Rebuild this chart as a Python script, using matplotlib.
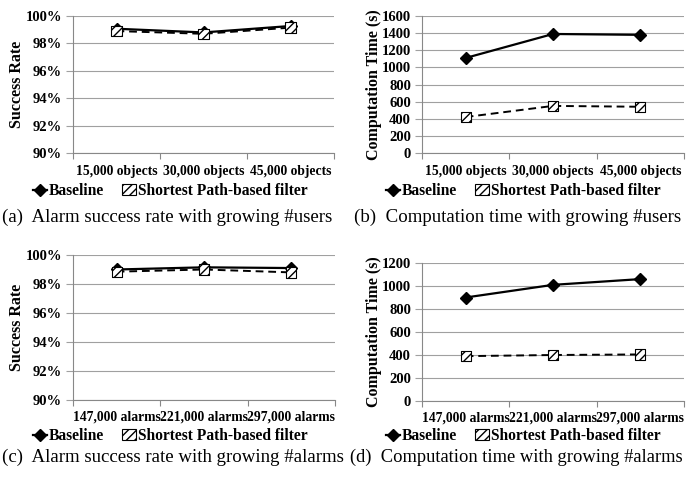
import matplotlib
matplotlib.use("Agg")
import matplotlib.pyplot as plt
from matplotlib.lines import Line2D
from matplotlib.patches import Patch

plt.rcParams['font.family'] = ['Liberation Serif', 'DejaVu Serif']
plt.rcParams['hatch.linewidth'] = 1.0

# ---- data ----
users_labels = ["15,000 objects", "30,000 objects", "45,000 objects"]
alarms_labels = ["147,000 alarms", "221,000 alarms", "297,000 alarms"]

rate_users_baseline = [99.07, 98.80, 99.27]
rate_users_sp = [98.90, 98.70, 99.15]
time_users_baseline = [1110, 1390, 1380]
time_users_sp = [420, 550, 540]

rate_alarms_baseline = [99.00, 99.15, 99.10]
rate_alarms_sp = [98.85, 99.00, 98.80]
time_alarms_baseline = [900, 1010, 1060]
time_alarms_sp = [390, 400, 405]

captions = ["(a)  Alarm success rate with growing #users",
            "(b)  Computation time with growing #users",
            "(c)  Alarm success rate with growing #alarms",
            "(d)  Computation time with growing #alarms"]

W, H = 691, 479
fig = plt.figure(figsize=(W / 100, H / 100), dpi=100)


def px_axes(left, top, right, bottom):
    return fig.add_axes([left / W, 1 - bottom / H, (right - left) / W, (bottom - top) / H])


def panel(ax, labels, base, sp, ylim, yticks, yfmt, ylabel, legend_xy, xpad):
    x = list(range(len(labels)))
    ax.plot(x, base, color='black', lw=1.6, marker='D', ms=6.5, zorder=3)
    ax.plot(x, sp, color='black', lw=1.4, ls=(0, (4, 2.5)), zorder=3)
    ax.scatter(x, sp, marker='s', s=55, facecolor='white', edgecolor='black',
               hatch='////', linewidth=0.8, zorder=4)
    ax.set_xlim(-0.5, len(labels) - 0.5)
    ax.set_ylim(*ylim)
    ax.set_yticks(yticks)
    ax.set_yticklabels([yfmt(v) for v in yticks], fontsize=10.5, fontweight='bold')
    ax.set_xticks([i + 0.5 for i in range(-1, len(labels))])
    ax.set_xticklabels([])
    ax.set_xticks(x, minor=True)
    ax.set_xticklabels(labels, minor=True, fontsize=9.8, fontweight='bold')
    ax.tick_params(axis='x', which='major', length=4, color='#888888', width=0.8)
    ax.tick_params(axis='x', which='minor', length=0, pad=xpad)
    ax.tick_params(axis='y', length=5, color='#a0a0a0', width=0.8, pad=3)
    ax.grid(axis='y', color='#a0a0a0', lw=0.8)
    ax.set_axisbelow(True)
    for s in ('top', 'right'):
        ax.spines[s].set_visible(False)
    for s in ('left', 'bottom'):
        ax.spines[s].set_color('#888888')
        ax.spines[s].set_linewidth(0.8)
    ax.set_ylabel(ylabel, fontsize=11.5, fontweight='bold', labelpad=0)
    handles = [Line2D([0], [0], color='black', lw=1.6, marker='D', ms=6),
               Patch(facecolor='white', edgecolor='black', hatch='////', lw=0.8)]
    ax.legend(handles, ["Baseline", "Shortest Path-based filter"], loc='center',
              bbox_to_anchor=(legend_xy[0] / W, 1 - legend_xy[1] / H),
              bbox_transform=fig.transFigure, ncol=2, frameon=False,
              prop={'size': 11.2, 'weight': 'bold'}, handlelength=0.9, handletextpad=0.1,
              columnspacing=1.2, borderaxespad=0, borderpad=0)


pct = lambda v: f"{v}%"
num = lambda v: f"{v}"

ax_a = px_axes(73, 16, 334, 153)
panel(ax_a, users_labels, rate_users_baseline, rate_users_sp, (90, 100),
      [90, 92, 94, 96, 98, 100], pct, "Success Rate", (170, 191), 9)
ax_b = px_axes(422, 16, 684, 153)
panel(ax_b, users_labels, time_users_baseline, time_users_sp, (0, 1600),
      list(range(0, 1601, 200)), num, "Computation Time (s)", (523, 191), 9)
ax_c = px_axes(73, 255, 335, 400)
panel(ax_c, alarms_labels, rate_alarms_baseline, rate_alarms_sp, (90, 100),
      [90, 92, 94, 96, 98, 100], pct, "Success Rate", (170, 436), 7.5)
ax_d = px_axes(422, 263, 684, 401)
panel(ax_d, alarms_labels, time_alarms_baseline, time_alarms_sp, (0, 1200),
      list(range(0, 1201, 200)), num, "Computation Time (s)", (523, 436), 7.5)

cap_kw = dict(fontsize=13.6, va='center', ha='left')
fig.text(2 / W, 1 - 217 / H, captions[0], **cap_kw)
fig.text(354 / W, 1 - 217 / H, captions[1], **cap_kw)
fig.text(2 / W, 1 - 457 / H, captions[2], **cap_kw)
fig.text(350 / W, 1 - 457 / H, captions[3], fontsize=13.3, va='center', ha='left')

fig.savefig("out.png", dpi=100)
